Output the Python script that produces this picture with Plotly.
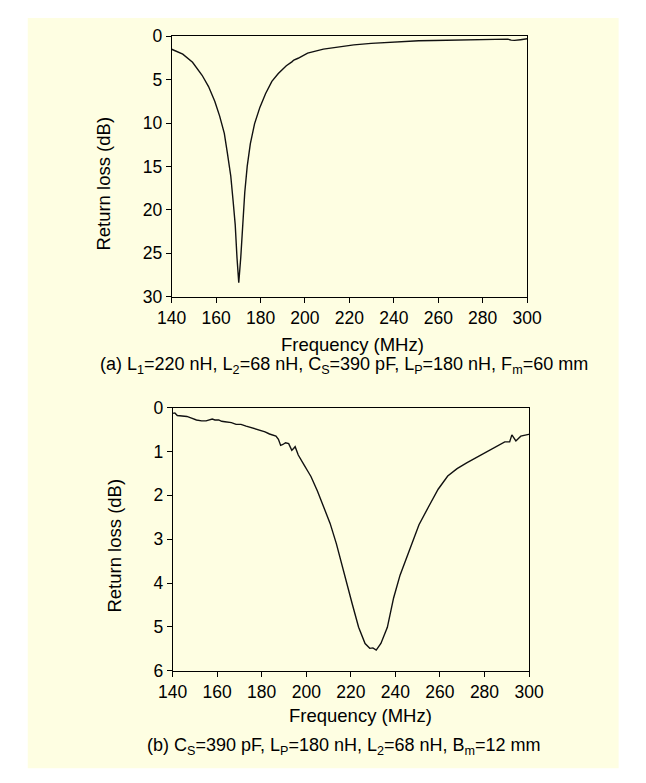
import plotly.graph_objects as go

# (a) return loss vs frequency
freq_a = [140, 145, 149.4, 153.7, 156.6, 159.4, 161.6, 163.7, 165.1, 166.6, 167.7, 168.6,
          169.4, 170.2, 171.1, 172.0, 172.9, 174.0, 175.4, 177.3, 179.7, 182.3, 185.1, 188,
          191.6, 194.1, 195.0, 196.9, 201.2, 208.3, 215.5, 222, 229.8, 237, 244.1, 251.2,
          258, 265.6, 272, 279.9, 286, 291.3, 292.8, 294.3, 297, 300]
rl_a = [1.5, 2.06, 3.0, 4.5, 5.8, 7.5, 9.2, 11.2, 13.5, 16.1, 19.1, 21.7,
        25.5, 28.4, 25.5, 21.7, 18.0, 15.0, 12.4, 10.1, 8.2, 6.6, 5.2, 4.3,
        3.4, 2.95, 2.75, 2.54, 1.94, 1.49, 1.19, 1.0, 0.82, 0.72, 0.6, 0.52,
        0.5, 0.48, 0.45, 0.41, 0.38, 0.33, 0.45, 0.48, 0.4, 0.3]

# (b) return loss vs frequency
freq_b = [140, 141, 142.1, 144, 146.4, 148.5, 150.7, 153, 155, 157.8, 159, 160.7, 162, 163.5,
          165, 166.4, 168.5, 170.7, 173, 175, 177, 179.2, 181.5, 183.5, 185, 186.4, 187.5,
          188.5, 189.5, 190.7, 192.1, 193.5, 194.3, 195, 196.4, 198, 199.2, 200.7, 202.1,
          205, 207.8, 209.3, 210.7, 213.5, 216.4, 218.5, 220.7, 223.5, 226.4, 228.5, 229.9,
          231.4, 233.5, 236.4, 239.2, 242.1, 246.3, 250.6, 254.9, 259.2, 263.5, 267.7, 272,
          276.3, 280.6, 284.9, 289.1, 291.3, 292.3, 294.1, 296.3, 299.8, 300]
rl_b = [0.13, 0.12, 0.18, 0.19, 0.2, 0.24, 0.28, 0.3, 0.3, 0.26, 0.28, 0.28, 0.31, 0.32,
        0.33, 0.34, 0.38, 0.38, 0.42, 0.45, 0.48, 0.52, 0.55, 0.6, 0.63, 0.65, 0.72,
        0.86, 0.84, 0.8, 0.82, 0.97, 0.93, 0.89, 1.08, 1.2, 1.32, 1.45, 1.57,
        1.9, 2.25, 2.48, 2.64, 3.1, 3.68, 4.1, 4.49, 5.01, 5.38, 5.49, 5.48,
        5.53, 5.38, 5.01, 4.34, 3.82, 3.23, 2.67, 2.26, 1.86, 1.56, 1.39, 1.26,
        1.14, 1.02, 0.89, 0.78, 0.78, 0.62, 0.76, 0.65, 0.61, 0.61]

x_ticks = [140, 160, 180, 200, 220, 240, 260, 280, 300]
y_ticks_a = [0, 5, 10, 15, 20, 25, 30]
y_ticks_b = [0, 1, 2, 3, 4, 5, 6]

x_title = "Frequency (MHz)"
y_title = "Return loss (dB)"
caption_a = "(a) L<sub>1</sub>=220 nH, L<sub>2</sub>=68 nH, C<sub>S</sub>=390 pF, L<sub>P</sub>=180 nH, F<sub>m</sub>=60 mm"
caption_b = "(b) C<sub>S</sub>=390 pF, L<sub>P</sub>=180 nH, L<sub>2</sub>=68 nH, B<sub>m</sub>=12 mm"

# The page body has an 8px default margin, so the figure is drawn 8px in from the
# window's top-left corner; page coordinates are converted accordingly.
OFF = 8
W, H = 646 - OFF, 783 - OFF
BG = "#FEFEE2"
FONT = "Liberation Sans, Arial, sans-serif"

fig = go.Figure()
fig.add_trace(go.Scatter(x=freq_a, y=rl_a, mode="lines", xaxis="x", yaxis="y",
                         line=dict(color="#111111", width=1.4), showlegend=False))
fig.add_trace(go.Scatter(x=freq_b, y=rl_b, mode="lines", xaxis="x2", yaxis="y2",
                         line=dict(color="#111111", width=1.4), showlegend=False))

def px(v):
    return (v - OFF) / W

def py(v):
    return 1 - (v - OFF) / H

axis_common = dict(showgrid=False, zeroline=False, showline=True, mirror=True,
                   linecolor="black", linewidth=1, ticks="outside", ticklen=5,
                   tickwidth=1, tickcolor="black",
                   tickfont=dict(family=FONT, size=17.5, color="black"))

fig.update_layout(
    width=W, height=H, autosize=False,
    margin=dict(l=0, r=0, t=0, b=0),
    paper_bgcolor="white", plot_bgcolor=BG,
    font=dict(family=FONT, color="black"),
    xaxis=dict(domain=[px(164), px(537)], range=[140, 300], tickvals=x_ticks,
               anchor="y", **axis_common),
    yaxis=dict(domain=[py(294), py(26.7)], range=[30, 0], tickvals=y_ticks_a,
               anchor="x", **axis_common),
    xaxis2=dict(domain=[px(165), px(539)], range=[140, 300], tickvals=x_ticks,
                anchor="y2", **axis_common),
    yaxis2=dict(domain=[py(678), py(408)], range=[6, 0], tickvals=y_ticks_b,
                anchor="x2", **axis_common),
    shapes=[dict(type="rect", xref="paper", yref="paper", layer="below",
                 x0=px(13), x1=px(633), y0=py(778), y1=1,
                 fillcolor=BG, line=dict(width=0))],
)

ann = []
def add_text(text, x, y, size, angle=0):
    ann.append(dict(text=text, x=px(x), y=py(y), xref="paper", yref="paper",
                    xanchor="center", yanchor="middle", showarrow=False,
                    textangle=angle, font=dict(family=FONT, size=size, color="black")))

add_text(x_title, 353.3, 343, 18.5)
add_text(caption_a, 345, 365, 18)
add_text(x_title, 362, 724, 18.5)
add_text(caption_b, 345, 756, 18)
add_text(y_title, 93, 178, 18.5, -90)
add_text(y_title, 103, 550, 18.5, -90)
fig.update_layout(annotations=ann)

fig.write_html("out.html")
